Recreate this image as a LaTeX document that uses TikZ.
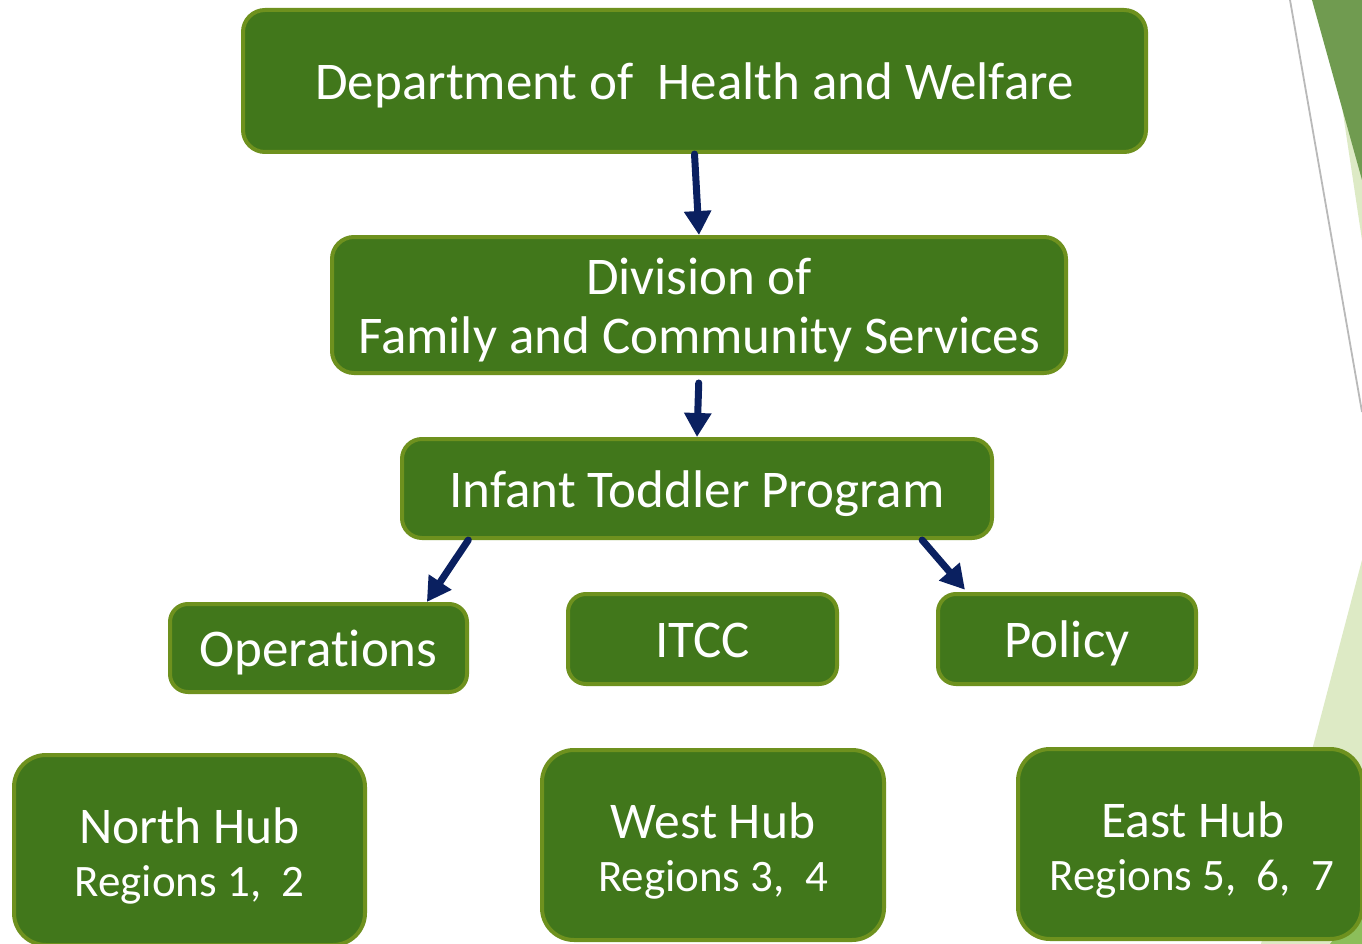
\documentclass[tikz,border=0pt]{standalone}
\usepackage{fontspec}
\setmainfont[Ligatures={NoCommon,NoContextual}]{Carlito}
\usetikzlibrary{arrows.meta,calc}
\definecolor{boxfill}{RGB}{65,119,27}
\definecolor{boxline}{RGB}{110,145,30}
\definecolor{arrowc}{RGB}{10,32,96}
\definecolor{decodark}{RGB}{112,155,80}
\definecolor{decopale}{RGB}{221,234,197}
\definecolor{decomid}{RGB}{140,190,90}
\definecolor{decogray}{RGB}{185,185,185}
\begin{document}
\begin{tikzpicture}[x=1pt,y=-1pt,
  orgbox/.style={draw=boxline, fill=boxfill, line width=4pt, rounded corners=22pt,
    text=white, align=center, inner sep=0pt},
  smallbox/.style={orgbox, rounded corners=18pt},
  hubbox/.style={orgbox, rounded corners=32pt},
  bigtext/.style={font=\fontsize{53}{59}\selectfont},
  oneline/.style={bigtext, text height=48pt, text depth=11pt},
  hubtext/.style={font=\fontsize{51.5}{53}\selectfont},
  conn/.style={draw=arrowc, line width=7pt, line cap=round,
    -{Triangle[width=26pt,length=24pt]}},
]
\clip (0,0) rectangle (1362,944);
\fill[white] (0,0) rectangle (1362,944);
% decoration at the right edge
\fill[decopale] (1326,0) -- (1362,0) -- (1362,240) -- cycle;
\fill[decodark] (1312,0) -- (1362,0) -- (1362,180) -- cycle;
\draw[decogray, line width=1.8pt] (1290,0) -- (1362,412);
\fill[decopale] (1362,560) -- (1261,944) -- (1362,944) -- cycle;
\fill[decomid] (1362,900) -- (1330,944) -- (1362,944) -- cycle;
% boxes
\node[orgbox, oneline, minimum width=903pt, minimum height=142pt] (dept) at (694.5,81)
  {Department of\ \ Health and Welfare};
\node[orgbox, bigtext, minimum width=734pt, minimum height=136pt] (div) at (699,305)
  {\rule{0pt}{46pt}Division of\\Family and Community Services};
\node[orgbox, oneline, rounded corners=20pt, minimum width=590pt, minimum height=99pt] (inf) at (697,488.5)
  {Infant Toddler Program};
\node[smallbox, oneline, minimum width=297pt, minimum height=88pt] (ops) at (318.5,648)
  {Operations};
\node[smallbox, oneline, minimum width=269pt, minimum height=90pt] (itcc) at (702.5,639)
  {ITCC};
\node[smallbox, oneline, minimum width=258pt, minimum height=90pt] (pol) at (1067,639)
  {Policy};
\node[hubbox, hubtext, minimum width=351pt, minimum height=190pt] (north) at (189.5,850)
  {\rule{0pt}{48pt}North Hub\\{\fontsize{45}{45}\selectfont Regions 1,\ \ 2}};
\node[hubbox, hubtext, minimum width=342pt, minimum height=190pt] (west) at (713,845)
  {\rule{0pt}{48pt}West Hub\\{\fontsize{45}{45}\selectfont Regions 3,\ \ 4}};
\node[hubbox, hubtext, minimum width=344pt, minimum height=190pt] (east) at (1190,844)
  {\rule{0pt}{48pt}\hspace{6pt}East Hub\\{\fontsize{45}{45}\selectfont\hspace{4pt}Regions 5,\ \ 6,\ \ 7}};
% connectors
\draw[conn] (dept.south) -- (div.north);
\draw[conn, shorten <=8pt] (div.south) -- (inf.north);
\draw[conn] ($(inf.south west)!0.115!(inf.south east)$) -- ($(ops.north west)!0.86!(ops.north east)$);
\draw[conn, shorten >=3pt] ($(inf.south west)!0.879!(inf.south east)$) -- ($(pol.north west)!0.118!(pol.north east)$);
\end{tikzpicture}
\end{document}
